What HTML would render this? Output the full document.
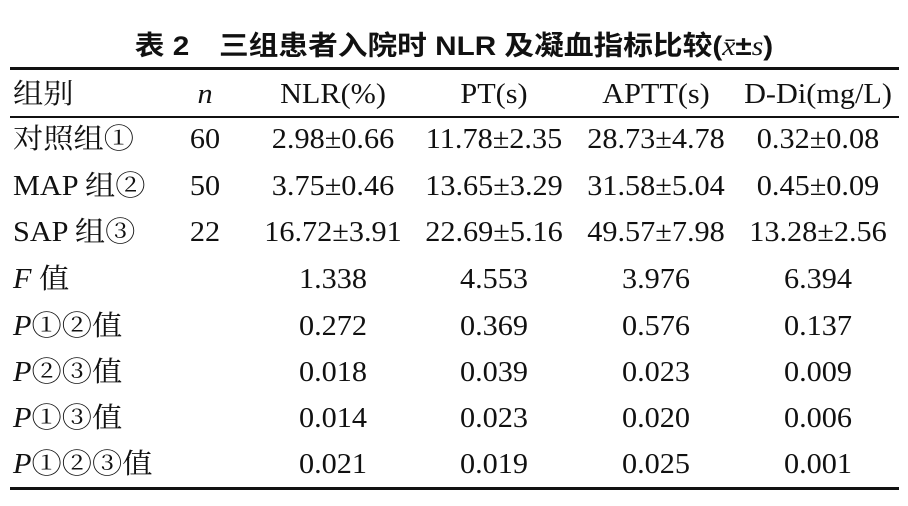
<!DOCTYPE html>
<html><head><meta charset="utf-8"><style>
body{margin:0;width:908px;height:506px;background:#fff;position:relative;overflow:hidden;font-family:"Liberation Serif","Noto Serif CJK SC",serif;color:#111}
.t{position:absolute;font-size:28px;line-height:30px;white-space:nowrap;transform:translate(-50%,-50%) scaleX(1.08)}
.l{position:absolute;font-size:28px;line-height:30px;white-space:nowrap;transform-origin:left center;transform:translateY(-50%) scaleX(1.08)}
.rule{position:absolute;left:10px;width:889px;background:#111}
#title{position:absolute;left:0;width:908px;top:31px;text-align:center;font:bold 27px/30px "Liberation Sans","Noto Sans CJK SC",sans-serif;transform:scaleX(1.1)}
i{font-style:italic}
</style></head><body>
<div id="title">表 2　三组患者入院时 NLR 及凝血指标比较(<i style="font-weight:normal;font-family:'Liberation Serif',serif">x̄</i>±<i style="font-weight:normal;font-family:'Liberation Serif',serif">s</i>)</div>
<div class="rule" style="top:67px;height:3px"></div>
<div class="rule" style="top:116px;height:2px"></div>
<div class="rule" style="top:487px;height:3px"></div>
<div id="tbl"></div>
<script>
const header=['组别','<i>n</i>','NLR(%)','PT(s)','APTT(s)','D-Di(mg/L)'];
const rows=[
['对照组①','60','2.98±0.66','11.78±2.35','28.73±4.78','0.32±0.08'],
['MAP 组②','50','3.75±0.46','13.65±3.29','31.58±5.04','0.45±0.09'],
['SAP 组③','22','16.72±3.91','22.69±5.16','49.57±7.98','13.28±2.56'],
['<i>F</i> 值','','1.338','4.553','3.976','6.394'],
['<i>P</i>①②值','','0.272','0.369','0.576','0.137'],
['<i>P</i>②③值','','0.018','0.039','0.023','0.009'],
['<i>P</i>①③值','','0.014','0.023','0.020','0.006'],
['<i>P</i>①②③值','','0.021','0.019','0.025','0.001']];
const cx=[13,205,333,494,656,818];
const ys=[95,140,187,233,280,327,373,419,465];
const tbl=document.getElementById('tbl');
[header,...rows].forEach((r,ri)=>{r.forEach((c,ci)=>{
 const d=document.createElement('div');
 d.className=ci===0?'l':'t';
 d.style.left=cx[ci]+'px';d.style.top=ys[ri]+'px';
 d.innerHTML=c;
 
 
 tbl.appendChild(d);});});
</script>
</body></html>
